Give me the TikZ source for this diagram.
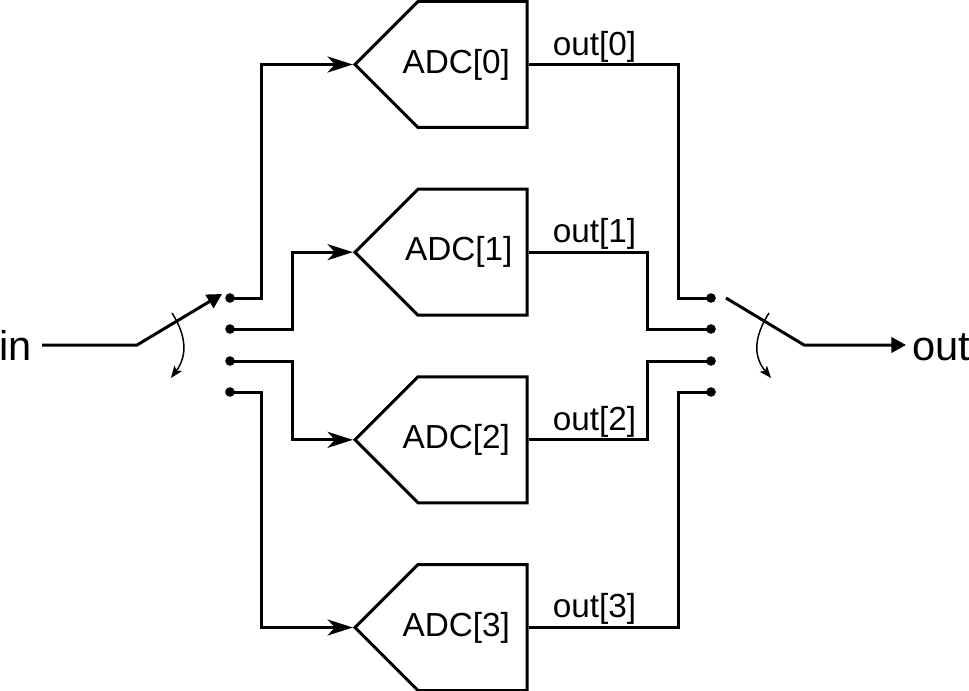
\documentclass[tikz,border=0pt]{standalone}
\usepackage{fontspec}
\setmainfont{Liberation Sans}
\usetikzlibrary{arrows.meta,positioning,shapes.symbols}
\tikzset{
    %Define standard arrow tip
    >={Stealth[length=19pt,width=12pt,inset=5.5pt]},
    wire/.style={line width=2.25pt},
    lever/.style={
      line width=2.25pt,
      -{Triangle[length=11pt,width=11.5pt]}},
    adc/.style={
      signal,
      signal to=west,
      signal pointer angle=90,
      draw=black, line width=2.25pt,
      minimum width=129pt,
      minimum height=94.5pt,
      inner sep=0pt},
    adcname/.style={
      font=\fontsize{25}{28}\selectfont,
      inner sep=0pt,
      xshift=-12.2pt,
      yshift=0pt},
    port/.style={
      circle,
      fill=black,
      inner sep=0pt,
      minimum size=7.2pt},
    sig/.style={
      font=\fontsize{25}{28}\selectfont,
      inner sep=0pt},
    term/.style={
      font=\fontsize{31.2}{34}\selectfont,
      inner sep=0pt},
    turn/.style={
      line width=1.1pt,
      -{Stealth[length=9pt,width=7pt,inset=2pt]}},
}
\begin{document}
\begin{tikzpicture}[x=0.75pt,y=-0.75pt,node distance=44pt]
    \useasboundingbox (0,0) rectangle (969,691);
    % converters
    \node (adc0) [adc] at (472.5,64.5) {};
    \node (adc1) [adc] [below=of adc0] {};
    \node (adc2) [adc] [below=of adc1] {};
    \node (adc3) [adc] [below=of adc2] {};
    \node (name0) [adcname] at (adc0) {ADC[0]};
    \node (name1) [adcname,xshift=1.9pt] at (adc1) {ADC[1]};
    \node (name2) [adcname] at (adc2) {ADC[2]};
    \node (name3) [adcname] at (adc3) {ADC[3]};
    % switch contacts
    \node (in0) [port] at (230,298) {};
    \node (in1) [port] at (230,329) {};
    \node (in2) [port] at (230,361) {};
    \node (in3) [port] at (230,392) {};
    \node (out0) [port] at (711,298) {};
    \node (out1) [port] at (711,329) {};
    \node (out2) [port] at (711,361) {};
    \node (out3) [port] at (711,392) {};
    % input side
    \draw [wire,->] (in0.center) -- ++(31.5,0) |- (adc0.west);
    \draw [wire,->] (in1.center) -- ++(62.5,0) |- (adc1.west);
    \draw [wire,->] (in2.center) -- ++(62.5,0) |- (adc2.west);
    \draw [wire,->] (in3.center) -- ++(31.5,0) |- (adc3.west);
    % output side
    \draw [wire] (adc0.east) -- ++(150,0) |- (out0.center);
    \draw [wire] (adc1.east) -- ++(118.5,0) |- (out1.center);
    \draw [wire] (adc2.east) -- ++(118.5,0) |- (out2.center);
    \draw [wire] (adc3.east) -- ++(150,0) |- (out3.center);
    \node (sig0) [sig] at (594.5,47) {out[0]};
    \node (sig1) [sig] at (594.5,234) {out[1]};
    \node (sig2) [sig] at (594.5,422) {out[2]};
    \node (sig3) [sig] at (594.5,609) {out[3]};
    % selectors
    \node (in) [term,anchor=base east] at (32,360) {in};
    \node (out) [term,anchor=base west] at (912,360) {out};
    \coordinate (instart) at (42,345);
    \coordinate (inturn) at (137,345);
    \coordinate (intip) at (222,294);
    \coordinate (outstart) at (726,298);
    \coordinate (outturn) at (804,345);
    \coordinate (outtip) at (906,345);
    \draw [lever] (instart) -- (inturn) -- (intip);
    \draw [lever] (outstart) -- (outturn) -- (outtip);
    \draw [turn] (172,313) .. controls (186,335) and (188,355) .. (171,378);
    \draw [turn] (769,313) .. controls (755,335) and (752,355) .. (771,378);
\end{tikzpicture}
\end{document}
